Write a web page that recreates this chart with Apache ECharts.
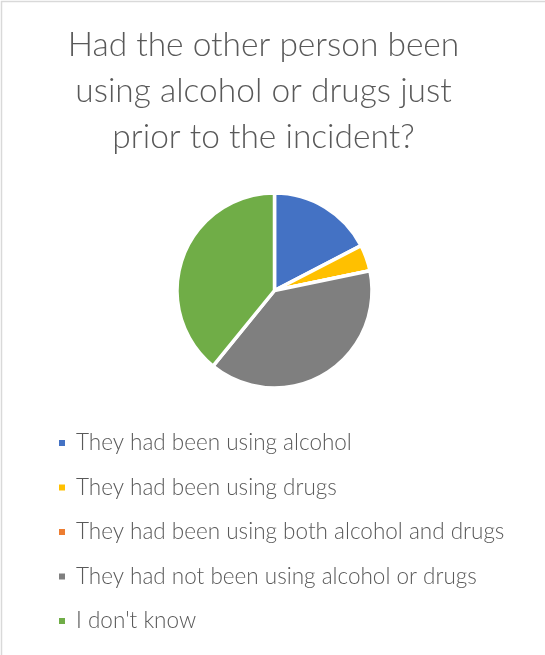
<!DOCTYPE html>
<html>
<head>
<meta charset="utf-8">
<script src="https://cdn.jsdelivr.net/npm/echarts@6/dist/echarts.min.js"></script>
<style>html,body{margin:0;padding:0;background:#fff;}#c{width:545px;height:655px;}</style>
</head>
<body>
<div id="c"></div>
<script>
const titleText = "Had the other person been\nusing alcohol or drugs just\nprior to the incident?";
const categories = [
  "They had been using alcohol",
  "They had been using drugs",
  "They had been using both alcohol and drugs",
  "They had not been using alcohol or drugs",
  "I don't know"
];
const values = [4, 1, 0, 9, 9];
const colors = ["#4472C4", "#FFC000", "#ED7D31", "#7F7F7F", "#70AD47"];

const chart = echarts.init(document.getElementById('c'), null, {renderer: 'canvas'});
chart.setOption({
  animation: false,
  backgroundColor: '#fff',
  color: colors,
  title: {
    text: titleText,
    left: 263.5,
    textAlign: 'center',
    top: 22,
    padding: 0,
    textStyle: {
      fontFamily: 'Lato',
      fontWeight: 300,
      fontSize: 33.5,
      lineHeight: 46,
      color: '#595959'
    }
  },
  legend: {
    orient: 'vertical',
    left: 57,
    top: 431,
    padding: 0,
    icon: 'rect',
    itemWidth: 8,
    itemHeight: 8,
    itemGap: 20.5,
    data: categories,
    textStyle: {
      fontFamily: 'Lato',
      fontWeight: 300,
      fontSize: 22.5,
      lineHeight: 24,
      color: '#595959',
      padding: [0, 0, 0, 5]
    }
  },
  graphic: [{
    type: 'rect',
    shape: {x: 1.5, y: 1.5, width: 700, height: 800},
    style: {fill: 'none', stroke: '#d9d9d9', lineWidth: 1.5},
    silent: true
  }],
  series: [{
    type: 'pie',
    center: [274.5, 290.5],
    radius: 97.5,
    startAngle: 90,
    label: {show: false},
    labelLine: {show: false},
    emphasis: {disabled: true},
    itemStyle: {borderColor: '#fff', borderWidth: 3.5},
    data: categories.map((n, i) => ({name: n, value: values[i]}))
  }]
});
</script>
</body>
</html>
